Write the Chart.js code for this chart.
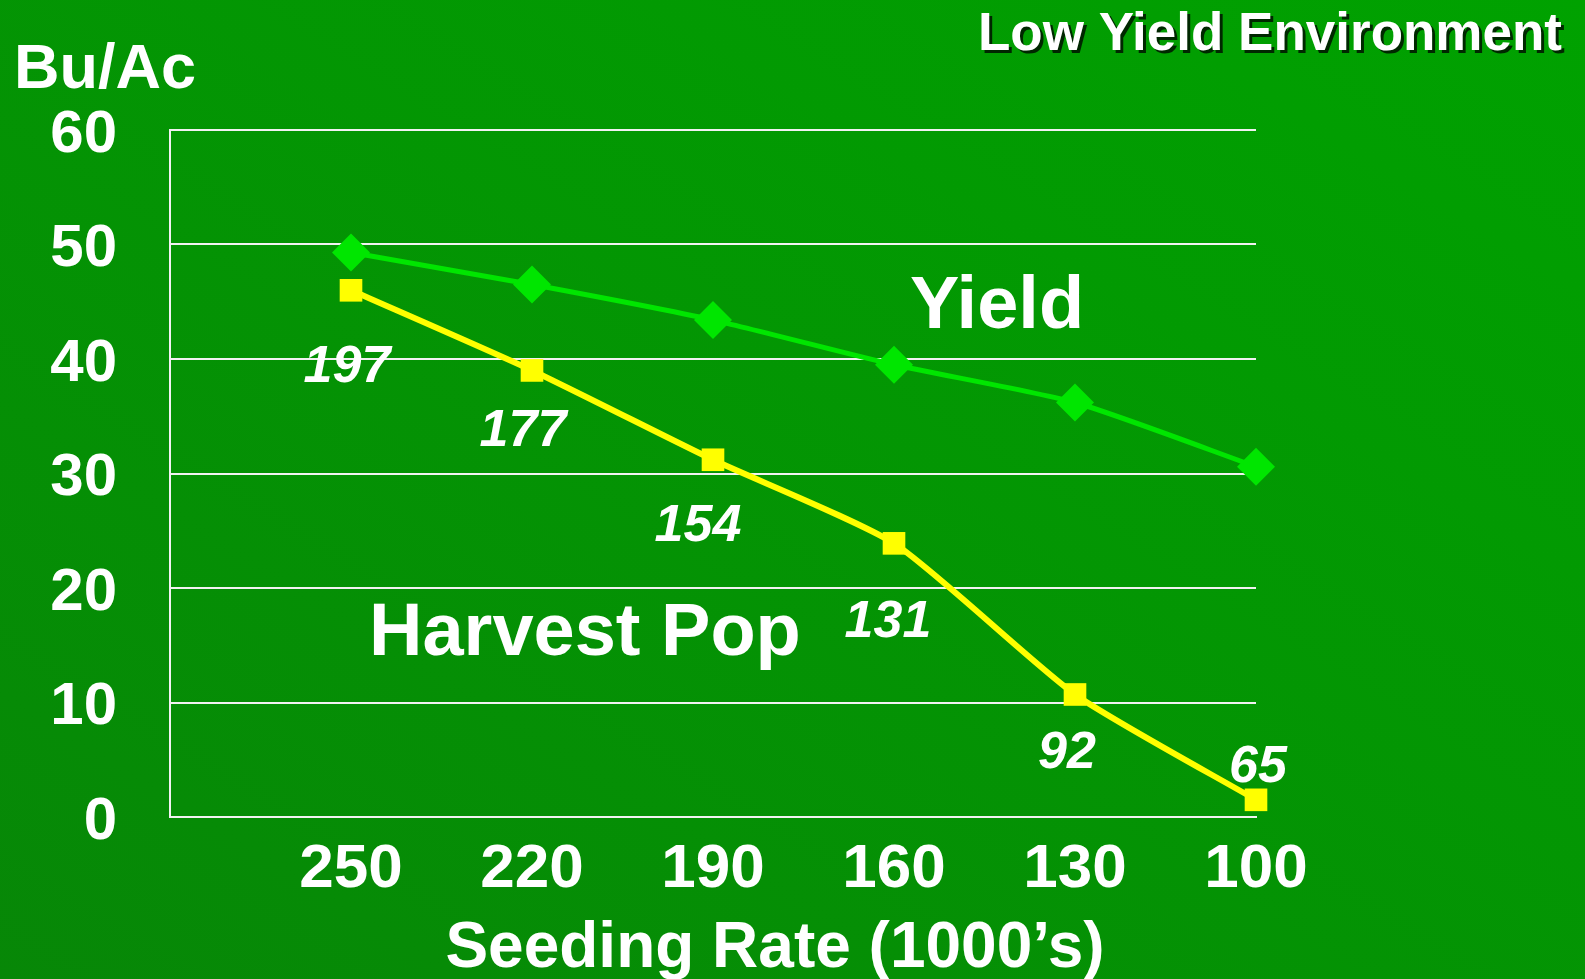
<!DOCTYPE html>
<html>
<head>
<meta charset="utf-8">
<script src="https://cdn.jsdelivr.net/npm/chart.js@4.4.1/dist/chart.umd.min.js"></script>
<style>
    html, body { margin: 0; padding: 0; }
    body { width: 1585px; height: 979px; overflow: hidden; background: linear-gradient(to top right, #078707, #00a200); }
    #wrap { position: relative; width: 1585px; height: 979px; }
</style>
</head>
<body>
<div id="wrap"><canvas id="chart"></canvas></div>
<script>
// --- Data ---
const seedingRates = ['250', '220', '190', '160', '130', '100'];
const yieldBuAc = [49.3, 46.5, 43.4, 39.5, 36.2, 30.6];
const harvestPop = [46.0, 39.0, 31.2, 23.9, 10.7, 1.5];
const harvestPopLabels = ['197', '177', '154', '131', '92', '65'];
const yTicks = [0, 10, 20, 30, 40, 50, 60];

// --- Styling ---
const FONT = '"Liberation Sans", Arial, sans-serif';
const popLabelOffsets = [[-4, 73], [-9, 57], [-15, 63], [-6, 75], [-8, 55], [2, -36]];

const toPoints = (vals) => vals.map((v, i) => ({ x: i + 1, y: v }));

const slideText = {
    id: 'slideText',
    afterDatasetsDraw(chart) {
        const ctx = chart.ctx;
        ctx.save();
        ctx.fillStyle = '#fff';
        ctx.textBaseline = 'alphabetic';

        // population labels under the yellow line
        ctx.textAlign = 'center';
        ctx.font = 'italic bold 52px ' + FONT;
        chart.getDatasetMeta(1).data.forEach((pt, i) => {
            const o = popLabelOffsets[i];
            ctx.fillText(harvestPopLabels[i], pt.x + o[0], pt.y + o[1] + 0.358 * 52);
        });

        // series names
        ctx.textAlign = 'left';
        ctx.font = 'bold 74px ' + FONT;
        ctx.fillText('Yield', 910, 328);
        ctx.fillText('Harvest Pop', 369, 655);

        // axis captions
        ctx.font = 'bold 63px ' + FONT;
        ctx.fillText('Bu/Ac', 14, 88);
        ctx.textAlign = 'center';
        ctx.font = 'bold 64px ' + FONT;
        ctx.fillText('Seeding Rate (1000\u2019s)', 775, 967);

        // title with shadow
        ctx.textAlign = 'right';
        ctx.font = 'bold 53px ' + FONT;
        ctx.fillStyle = 'rgba(0,0,0,0.75)';
        ctx.fillText('Low Yield Environment', 1565, 53);
        ctx.fillStyle = '#fff';
        ctx.fillText('Low Yield Environment', 1562, 50);
        ctx.restore();
    }
};

const ctx = document.getElementById('chart').getContext('2d');
new Chart(ctx, {
    type: 'line',
    data: {
        datasets: [
            { label: 'Yield', data: toPoints(yieldBuAc), borderColor: '#00e600', backgroundColor: '#00e600', borderWidth: 5, pointStyle: 'rectRot', pointRadius: 19, pointBorderWidth: 0, tension: 0.2, clip: false },
            { label: 'Harvest Pop', data: toPoints(harvestPop), borderColor: '#ffff00', backgroundColor: '#ffff00', borderWidth: 6, pointStyle: 'rect', pointRadius: 16, pointBorderWidth: 0, tension: 0.2, clip: false }
        ]
    },
    options: {
        responsive: true,
        maintainAspectRatio: false,
        animation: false,
        layout: { padding: { left: 0, right: 329, top: 130, bottom: 0 } },
        plugins: { legend: { display: false }, tooltip: { enabled: false } },
        scales: {
            x: {
                type: 'linear', min: 0, max: 6,
                afterFit: (s) => { s.height = 162; },
                afterBuildTicks: (s) => { s.ticks = [1, 2, 3, 4, 5, 6].map(v => ({ value: v })); },
                grid: { display: false, drawTicks: false },
                border: { display: true, color: '#f2f2f2', width: 2 },
                ticks: { color: '#fff', padding: 16, font: { family: FONT, size: 62, weight: 'bold' }, callback: (v) => seedingRates[v - 1] || '' }
            },
            y: {
                min: 0, max: 60,
                afterFit: (s) => { s.width = 170; },
                afterBuildTicks: (s) => { s.ticks = yTicks.map(v => ({ value: v })); },
                grid: { color: '#f2f2f2', lineWidth: 2, drawTicks: false },
                border: { display: true, color: '#f2f2f2', width: 2 },
                ticks: { color: '#fff', padding: 53, labelOffset: 5, font: { family: FONT, size: 60, weight: 'bold' } }
            }
        }
    },
    plugins: [slideText]
});
</script>
</body>
</html>
